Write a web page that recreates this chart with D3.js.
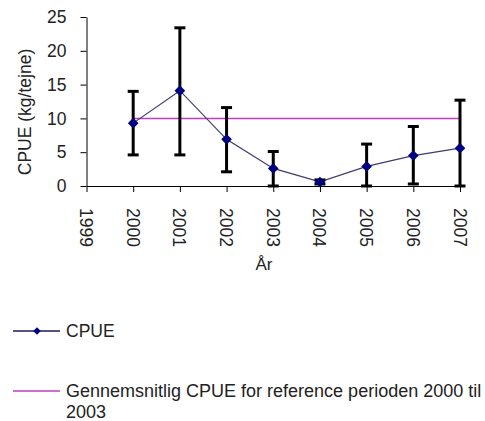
<!DOCTYPE html>
<html>
<head>
<meta charset="utf-8">
<script src="https://cdn.jsdelivr.net/npm/d3@7"></script>
<style>
  body { margin: 0; background: #fff; }
  svg { display: block; font-family: "Liberation Sans", Arial, sans-serif; }
</style>
</head>
<body>
<svg id="chart" width="485" height="421"></svg>
<script>
// data
var years = [2000, 2001, 2002, 2003, 2004, 2005, 2006, 2007];
var cpue = [9.3, 14.1, 6.9, 2.6, 0.6, 2.9, 4.5, 5.6];
var errLow = [4.6, 4.6, 2.1, 0, 0.3, 0, 0.3, 0];
var errHigh = [14.0, 23.4, 11.6, 5.1, 0.9, 6.2, 8.8, 12.7];
var refMean = 10.0;
var yTicks = [0, 5, 10, 15, 20, 25];
var xTicks = [1999, 2000, 2001, 2002, 2003, 2004, 2005, 2006, 2007];
var legendLabels = ["CPUE", "Gennemsnitlig CPUE for reference perioden 2000 til", "2003"];

var svg = d3.select("#chart");

var x = d3.scaleLinear().domain([1999, 2007]).range([86.5, 460]);
var y = d3.scaleLinear().domain([0, 25]).range([186, 17]);

var data = years.map(function (d, i) {
    return { year: d, v: cpue[i], lo: errLow[i], hi: errHigh[i] };
});

// axes
var yAxis = svg.append("g")
    .attr("transform", "translate(" + x(1999) + ",0)")
    .call(d3.axisLeft(y).tickValues(yTicks).tickSize(6).tickPadding(14).tickSizeOuter(0));

var xAxis = svg.append("g")
    .attr("transform", "translate(0," + y(0) + ")")
    .call(d3.axisBottom(x).tickValues(xTicks).tickFormat(d3.format("d")).tickSize(6).tickSizeOuter(0));

[yAxis, xAxis].forEach(function (g) {
    g.select(".domain").attr("stroke", "#000");
    g.selectAll(".tick line").attr("stroke", "#000");
    g.selectAll(".tick text").attr("fill", "#222").style("font-size", "17.5px");
});

xAxis.selectAll(".tick text")
    .attr("y", 0)
    .attr("dy", "0.4em")
    .attr("text-anchor", "start")
    .attr("transform", "translate(0,22) rotate(90)");

// axis titles
svg.append("text")
    .attr("transform", "translate(31,112) rotate(-90)")
    .attr("text-anchor", "middle")
    .style("font-size", "17.5px")
    .attr("fill", "#222")
    .text("CPUE (kg/tejne)");

svg.append("text")
    .attr("x", 264)
    .attr("y", 270)
    .attr("text-anchor", "middle")
    .style("font-size", "17px")
    .attr("fill", "#222")
    .text("År");

// reference mean line
svg.append("line")
    .attr("x1", x(2000)).attr("x2", x(2007))
    .attr("y1", y(refMean)).attr("y2", y(refMean))
    .attr("stroke", "#c23cc2")
    .attr("stroke-width", 1.5);

// cpue line
var line = d3.line()
    .x(function (d) { return x(d.year); })
    .y(function (d) { return y(d.v); });

svg.append("path")
    .datum(data)
    .attr("d", line)
    .attr("fill", "none")
    .attr("stroke", "#3c3c6e")
    .attr("stroke-width", 1.2);

// error bars
var err = svg.append("g").selectAll("g")
    .data(data)
    .enter().append("g")
    .attr("stroke", "#000")
    .attr("stroke-width", 3);

err.append("line")
    .attr("x1", function (d) { return x(d.year); })
    .attr("x2", function (d) { return x(d.year); })
    .attr("y1", function (d) { return y(d.lo); })
    .attr("y2", function (d) { return y(d.hi); });

err.append("line")
    .attr("x1", function (d) { return x(d.year) - 5.5; })
    .attr("x2", function (d) { return x(d.year) + 5.5; })
    .attr("y1", function (d) { return y(d.hi); })
    .attr("y2", function (d) { return y(d.hi); });

err.append("line")
    .attr("x1", function (d) { return x(d.year) - 5.5; })
    .attr("x2", function (d) { return x(d.year) + 5.5; })
    .attr("y1", function (d) { return y(d.lo); })
    .attr("y2", function (d) { return y(d.lo); });

// markers
var diamond = d3.symbol().type(d3.symbolDiamond2).size(72);

svg.append("g").selectAll("path")
    .data(data)
    .enter().append("path")
    .attr("d", diamond)
    .attr("transform", function (d) { return "translate(" + x(d.year) + "," + y(d.v) + ")"; })
    .attr("fill", "#000080");

// legend
var leg = svg.append("g");

leg.append("line")
    .attr("x1", 13).attr("x2", 60).attr("y1", 331).attr("y2", 331)
    .attr("stroke", "#1c1c5a").attr("stroke-width", 1.3);
leg.append("path")
    .attr("d", d3.symbol().type(d3.symbolDiamond2).size(36))
    .attr("transform", "translate(37,331)")
    .attr("fill", "#000080");
leg.append("text")
    .attr("x", 66).attr("y", 337)
    .style("font-size", "17.5px").attr("fill", "#222")
    .text(legendLabels[0]);

leg.append("line")
    .attr("x1", 13).attr("x2", 60).attr("y1", 391).attr("y2", 391)
    .attr("stroke", "#c23cc2").attr("stroke-width", 1.5);
leg.append("text")
    .attr("x", 66).attr("y", 397)
    .style("font-size", "18px").attr("fill", "#222")
    .text(legendLabels[1]);
leg.append("text")
    .attr("x", 66).attr("y", 418)
    .style("font-size", "18px").attr("fill", "#222")
    .text(legendLabels[2]);
</script>
</body>
</html>
